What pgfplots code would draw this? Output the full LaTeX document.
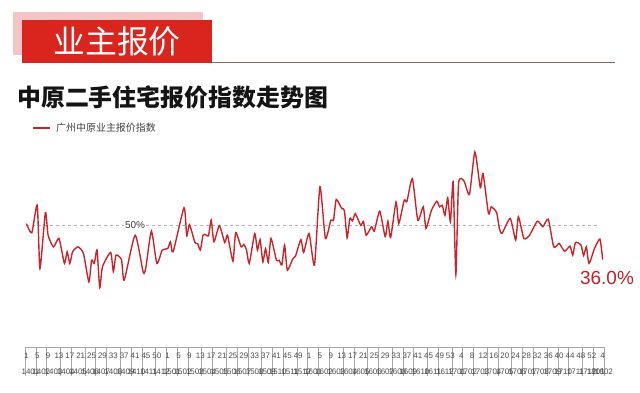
\documentclass[border=0pt]{standalone}
\usepackage{fontspec}
\setmainfont{Liberation Sans}
\newfontfamily\cjk{Noto Sans CJK SC}
\usepackage{pgfplots}
\pgfplotsset{compat=1.18}
\definecolor{lred}{RGB}{200,38,44}
\definecolor{bred}{RGB}{218,36,30}
\definecolor{bpink}{RGB}{246,196,196}
\definecolor{bline}{RGB}{125,105,100}
\definecolor{labred}{RGB}{196,30,40}
\begin{document}
\begin{tikzpicture}[x=1bp,y=1bp]
\useasboundingbox (0,0) rectangle (640,392);
\fill[bpink] (13,380) rectangle (203,337);
\fill[bred] (22,372) rectangle (212,329);
\node[text=white, font=\cjk\fontsize{32}{32}\selectfont] at (117,351) {业主报价};
\draw[bline, line width=0.8bp] (212,329.4) -- (615,329.4);
\node[anchor=west, inner sep=0, font=\cjk\bfseries\fontsize{24}{24}\selectfont, text=black!92] at (17,295) {中原二手住宅报价指数走势图};
\draw[lred, line width=1.2bp] (33,264) -- (50,264);
\node[anchor=west, inner sep=0, font=\cjk\fontsize{10}{10}\selectfont, text=black!75] at (56,264) {广州中原业主报价指数};
\begin{axis}[at={(25bp,45bp)}, anchor=south west, scale only axis,
  width=579bp, height=243bp,
  xmin=-0.5, xmax=212.5, ymin=0, ymax=100,
  hide y axis, axis x line*=bottom,
  axis line style={-, draw=black!35},
  clip=false,
  xtick={0,4,...,212},
  xticklabels={1,5,9,13,17,21,25,29,33,37,41,45,50,
               1,5,9,13,17,21,25,29,33,37,41,45,49,
               1,5,9,13,17,21,25,29,33,37,41,45,49,53,
               4,8,12,16,20,24,28,32,36,40,44,48,52,4},
  major tick length=0,
  minor xtick={-0.5,3.5,7.5,12.5,16.5,21.5,25.5,29.5,34.5,38.5,42.5,47.5,51.5,55.5,59.5,64.5,68.5,73.5,77.5,81.5,86.5,90.5,94.5,99.5,103.5,107.5,111.5,116.5,120.5,125.5,129.5,134.5,138.5,142.5,147.5,151.5,156.5,160.5,164.5,169.5,173.5,178.5,182.5,186.5,191.5,195.5,199.5,204.5,208.5,212.5},
  minor tick length=29bp, tick align=outside,
  minor tick style={draw=black!35, line width=0.5bp},
  xticklabel style={font=\fontsize{8}{8}\selectfont, text=black!70, anchor=center, yshift=-9bp},
  extra x ticks={1.5,5.5,10,14.5,19,23.5,27.5,32,36.5,40.5,45,49.5,53.5,57.5,62,66.5,71,75.5,79.5,84,88.5,92.5,97,101.5,105.5,109.5,114,118.5,123,127.5,132,136.5,140.5,145,149.5,154,158.5,162.5,167,171.5,176,180.5,184.5,189,193.5,197.5,202,206.5,209.5,212.5},
  extra x tick labels={1401,1402,1403,1404,1405,1406,1407,1408,1409,1410,1411,1412,
                       1501,1502,1503,1504,1505,1506,1507,1508,1509,1510,1511,1512,
                       1601,1602,1603,1604,1605,1606,1607,1608,1609,1610,1611,1612,
                       1701,1702,1703,1704,1705,1706,1707,1708,1709,1710,1711,1712,1801,1802},
  extra x tick style={major tick length=0, xticklabel style={yshift=-16bp}},
]
\addplot[black!30, dashed, line width=0.6bp] coordinates {(0,50) (210,50)};
\addplot[lred, line width=1.4bp, smooth, tension=0.35] coordinates {
(0,50.8)(2,47)(4,58.4)(5,32.3)(7,55.3)(8,46)(10,41.2)(12,44.7)(14,34.4)(15,39.2)(16,34.4)(17,39.2)(19,41.2)(21,38.5)(23,26.8)(24,35.7)(25,34.4)(26,39.9)(27,24.4)(28,33)(31,38.9)(32,31)(33,37.8)(35,35.9)(36,27.5)(40,46)(43,30.7)(44,33)(46,47.7)(48,34.4)(50,39.9)(52,40.5)(53,43.3)(54,39.2)(58,57.3)(59,45.7)(60,50.4)(62,43)(63,42.6)(64,39.9)(65,46)(66,46.2)(67,45.7)(68,52.2)(69,43.3)(71,49.9)(73,43)(74,46)(76,35.3)(77,47.1)(79,41.2)(80,42.2)(81,39.9)(82,34.4)(84,46.7)(85,39.9)(86,44.2)(87,35)(88,40.5)(89,34.8)(90,44.7)(92,35.7)(93,35.7)(94,33.8)(95,41.9)(96,31.6)(98,36.3)(99,37.4)(101,44.2)(102,38.9)(104,46.7)(106,33.7)(108,66)(110,44.7)(112,52.2)(113,52.2)(114,60.7)(116,57)(117,56.2)(118,44.9)(119,52.9)(120,51.9)(121,54.9)(123,50.1)(124,51.7)(125,46)(127,49.5)(128,47.7)(130,55.9)(132,45.4)(133,51.8)(134,45)(136,59.7)(137,50.8)(139,60.4)(140,59.9)(142,69.3)(144,52.2)(146,57.7)(147,48.8)(149,56.2)(151,60)(152,57.7)(153,58.3)(154,54.2)(155,61.4)(156,51.5)(157,68)(158,29.8)(159,67.3)(161,68.3)(163,62.8)(165,80.3)(167,65.5)(168,71.4)(170,54.9)(171,57.7)(173,55.3)(174,48.8)(175,46.8)(178,52.9)(180,44)(181,53.6)(183,44.7)(185,45.8)(188,51.8)(190,49.5)(192,52.6)(194,41.2)(196,42.6)(198,39.4)(200,41.5)(201,37.8)(202,43)(204,42)(205,37.6)(206,41.2)(207,34.4)(209,40.5)(211,44.4)(212,36)};
\node[fill=white, inner sep=1bp, text=black!75, font=\fontsize{10}{10}\selectfont] at (axis cs:40,50) {50\%};
\node[anchor=north, inner sep=0, text=labred, font=\fontsize{19}{19}\selectfont] at (axis cs:213.6,31.3) {36.0\%};
\end{axis}
\end{tikzpicture}
\end{document}
